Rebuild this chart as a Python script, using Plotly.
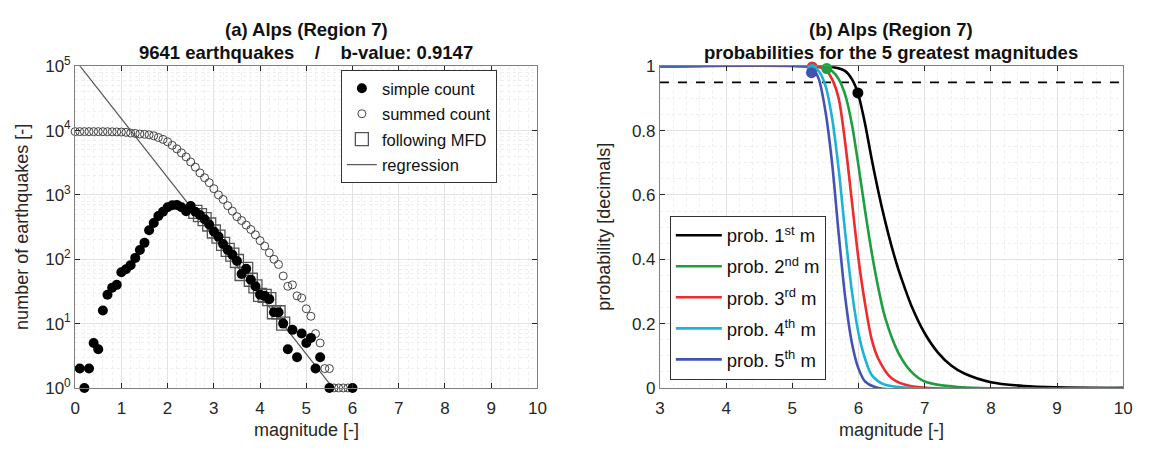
import plotly.graph_objects as go

# ---------------- panel (a): magnitude-frequency data ----------------
mag_bins = [round(0.1 * i, 1) for i in range(61)]

# simple count per 0.1 magnitude bin (None = empty bin)
simple_count = [
    None, 2, 1, 2, 5, 4, 16, 28, 36, 40,
    63, 70, 81, 105, 139, 180, 283, 366, 470, 547,
    645, 690, 700, 645, 560, 673, 547, 487, 420, 347,
    270, 225, 173, 140, 118, 94, 59, 71, 48, 38,
    28, 27, 24, 15, 15, 10, 4, 8, 3, 7,
    5, 6, 2, 3, None, 1, None, None, None, None,
    1,
]

# summed (cumulative) count
summed_count = [
    9641, 9640, 9638, 9636, 9634, 9630, 9625, 9610, 9580, 9540,
    9500, 9400, 9150, 9050, 8850, 8750, 8600, 8300, 7800, 7300,
    6700, 5900, 5200, 4500, 3900, 3250, 2700, 2200, 1850, 1550,
    1250, 1000, 850, 680, 560, 460, 400, 340, 290, 240,
    195, 160, 126, 100, 83, 55, 38, 40, 27, 25,
    17, 13, 7, 5, 2, 2, 1, 1, 1, 1,
    1,
]

# bins that follow the magnitude-frequency distribution
mfd_mag = [2.6, 2.7, 2.8, 2.9, 3.0, 3.1, 3.2, 3.3, 3.4, 3.5, 3.6,
           3.7, 3.8, 3.9, 4.0, 4.1, 4.2, 4.3, 4.4, 4.5]
mfd_count = [547, 487, 420, 347, 270, 225, 173, 140, 118, 94, 59,
             71, 48, 38, 28, 27, 24, 15, 15, 10]

# Gutenberg-Richter regression  log10(N) = a - b*M
a_value = 5.10
b_value = 0.9147
reg_mag = [0.0, 5.6]
reg_count = [10 ** (a_value - b_value * m) for m in reg_mag]

# ---------------- panel (b): exceedance probabilities ----------------
p1_mag = [3, 5.6, 5.8, 5.9, 5.99, 6.1, 6.2, 6.3, 6.4, 6.5, 6.6, 6.7, 6.8, 7.0, 7.2,
          7.4, 7.6, 8.0, 8.5, 9.0, 10]
p1_val = [1, 0.998, 0.985, 0.96, 0.917, 0.82, 0.71, 0.61, 0.52, 0.44, 0.37, 0.31,
          0.255, 0.17, 0.11, 0.07, 0.045, 0.018, 0.006, 0.002, 0]

p2_mag = [3, 5.5, 5.6, 5.7, 5.8, 5.9, 6.0, 6.1, 6.2, 6.3, 6.4, 6.6, 6.8, 7.0, 7.5, 10]
p2_val = [1, 0.995, 0.985, 0.96, 0.91, 0.82, 0.69, 0.55, 0.42, 0.31, 0.22, 0.11, 0.05, 0.02, 0.003, 0]

p3_mag = [3, 5.4, 5.5, 5.6, 5.7, 5.8, 5.9, 6.0, 6.1, 6.2, 6.3, 6.5, 6.8, 10]
p3_val = [1, 0.998, 0.99, 0.96, 0.90, 0.76, 0.58, 0.40, 0.26, 0.15, 0.09, 0.03, 0.005, 0]

p4_mag = [3, 5.3, 5.4, 5.5, 5.6, 5.7, 5.8, 5.9, 6.0, 6.1, 6.2, 6.4, 10]
p4_val = [1, 0.998, 0.985, 0.94, 0.84, 0.68, 0.48, 0.30, 0.17, 0.09, 0.04, 0.01, 0]

p5_mag = [3, 5.2, 5.3, 5.4, 5.5, 5.6, 5.7, 5.8, 5.9, 6.0, 6.1, 6.3, 10]
p5_val = [1, 1, 0.995, 0.96, 0.86, 0.70, 0.48, 0.28, 0.14, 0.06, 0.02, 0, 0]

# observed greatest magnitudes placed on their curves
obs_mag = [5.99, 5.52, 5.30, 5.30, 5.29]
obs_val = [0.917, 0.993, 0.998, 0.99, 0.98]

curve_names = ["prob. 1<sup>st</sup> m", "prob. 2<sup>nd</sup> m", "prob. 3<sup>rd</sup> m",
               "prob. 4<sup>th</sup> m", "prob. 5<sup>th</sup> m"]
curve_colors = ["#000000", "#1f9e3f", "#ef2b2b", "#1bb3d6", "#4353b2"]

threshold = 0.95

FONT = "Arial, Liberation Sans, Helvetica, sans-serif"
AX = "#262626"
GRID = "#e3e3e3"
MINOR = "#efefef"

W, H = 1154, 456
def px_x(p):
    return p / W
def px_y(p):
    return 1 - p / H

fig = go.Figure()

# ----- panel (a) traces -----
fig.add_trace(go.Scatter(
    x=reg_mag, y=reg_count, mode="lines", name="regression", legendrank=4,
    legendgroup="reg",
    line=dict(color="#555555", width=1.2), xaxis="x", yaxis="y", legend="legend"))
fig.add_trace(go.Scatter(
    x=mag_bins, y=summed_count, mode="markers", name="summed count", legendrank=2,
    legendgroup="sum",
    marker=dict(symbol="circle-open", size=8, color="#444444", line=dict(width=1)),
    cliponaxis=False, xaxis="x", yaxis="y", legend="legend"))
fig.add_trace(go.Scatter(
    x=mfd_mag, y=mfd_count, mode="markers", name="following MFD", legendrank=3,
    legendgroup="mfd",
    marker=dict(symbol="square-open", size=13, color="#555555", line=dict(width=1.3)),
    cliponaxis=False, xaxis="x", yaxis="y", legend="legend"))
fig.add_trace(go.Scatter(
    x=mag_bins, y=simple_count, mode="markers", name="simple count", legendrank=1,
    legendgroup="simple",
    marker=dict(symbol="circle", size=10, color="#000000"),
    cliponaxis=False, xaxis="x", yaxis="y", legend="legend"))

# ----- panel (b) traces -----
fig.add_trace(go.Scatter(
    x=[3, 10], y=[threshold, threshold], mode="lines", showlegend=False,
    line=dict(color="#000000", width=1.6, dash="dash"), xaxis="x2", yaxis="y2"))
curves = [(p1_mag, p1_val), (p2_mag, p2_val), (p3_mag, p3_val), (p4_mag, p4_val), (p5_mag, p5_val)]
for k, ((cm, cv), name, col) in enumerate(zip(curves, curve_names, curve_colors)):
    fig.add_trace(go.Scatter(
        x=cm, y=cv, mode="lines", name=name, legendgroup=f"c{k}",
        line=dict(color=col, width=2.6, shape="spline", smoothing=0.8),
        xaxis="x2", yaxis="y2", legend="legend2"))
for m, v, col in zip(obs_mag, obs_val, curve_colors):
    fig.add_trace(go.Scatter(
        x=[m], y=[v], mode="markers", showlegend=False,
        marker=dict(size=11, color=col), cliponaxis=False,
        xaxis="x2", yaxis="y2"))

axis_common = dict(
    showline=True, linecolor="#7f7f7f", linewidth=1, mirror="ticks",
    ticks="inside", ticklen=5, tickcolor=AX,
    tickfont=dict(family=FONT, size=17, color=AX),
    showgrid=True, gridcolor=GRID, gridwidth=1, zeroline=False,
)

fig.update_layout(
    width=W, height=H,
    margin=dict(l=0, r=0, t=0, b=0),
    paper_bgcolor="white", plot_bgcolor="white",
    font=dict(family=FONT, color=AX),
    xaxis=dict(domain=[px_x(71), px_x(539)], range=[0, 10], dtick=1, ticklabelstandoff=5,
               minor=dict(dtick=0.2, showgrid=True, gridcolor=MINOR, griddash="dot"),
               anchor="y", **axis_common),
    yaxis=dict(domain=[px_y(395), px_y(57)], type="log", range=[0, 5],
               tickvals=[1, 10, 100, 1000, 10000, 100000],
               ticktext=["10<sup>0</sup>", "10<sup>1</sup>", "10<sup>2</sup>",
                         "10<sup>3</sup>", "10<sup>4</sup>", "10<sup>5</sup>"],
               minor=dict(dtick="D1", showgrid=True, gridcolor=MINOR, griddash="dot"),
               anchor="x", **axis_common),
    xaxis2=dict(domain=[px_x(663), px_x(1132)], range=[3, 10], dtick=1, ticklabelstandoff=5,
                minor=dict(dtick=0.2, showgrid=True, gridcolor=MINOR, griddash="dot"),
                anchor="y2", **axis_common),
    yaxis2=dict(domain=[px_y(395), px_y(57)], range=[0, 1],
                tickvals=[0, 0.2, 0.4, 0.6, 0.8, 1], ticktext=["0", "0.2", "0.4", "0.6", "0.8", "1"],
                minor=dict(dtick=0.05, showgrid=True, gridcolor=MINOR, griddash="dot"),
                anchor="x2", **axis_common),
    legend=dict(x=px_x(340), y=px_y(61), xanchor="left", yanchor="top",
                bgcolor="white", bordercolor="#333333", borderwidth=1,
                font=dict(family=FONT, size=16.5, color="#111111"),
                tracegroupgap=1, itemwidth=30),
    legend2=dict(x=px_x(673), y=px_y(214), xanchor="left", yanchor="top",
                 bgcolor="white", bordercolor="#333333", borderwidth=1,
                 font=dict(family=FONT, size=18.5, color="#111111"),
                 tracegroupgap=4, itemwidth=46),
    showlegend=True,
)

title_font = dict(family=FONT, size=18.5, color="#111111")
annotations = [
    dict(text="<b>(a) Alps (Region 7)</b>", x=px_x(305), y=px_y(18)),
    dict(text="<b>9641 earthquakes&nbsp;&nbsp;&nbsp; /&nbsp;&nbsp;&nbsp; b-value: 0.9147</b>",
         x=px_x(305), y=px_y(43)),
    dict(text="<b>(b) Alps (Region 7)</b>", x=px_x(897), y=px_y(18)),
    dict(text="<b>probabilities for the 5 greatest magnitudes</b>", x=px_x(897), y=px_y(43)),
]
for a in annotations:
    fig.add_annotation(xref="paper", yref="paper", showarrow=False,
                       xanchor="center", yanchor="middle", font=title_font, **a)

label_font = dict(family=FONT, size=18, color=AX)
fig.add_annotation(text="magnitude [-]", x=px_x(305), y=px_y(439), xref="paper", yref="paper",
                   xanchor="center", yanchor="middle", showarrow=False, font=label_font)
fig.add_annotation(text="magnitude [-]", x=px_x(897), y=px_y(439), xref="paper", yref="paper",
                   xanchor="center", yanchor="middle", showarrow=False, font=label_font)
fig.add_annotation(text="number of earthquakes [-]", x=px_x(17), y=px_y(226), xref="paper",
                   yref="paper", xanchor="center", yanchor="middle", showarrow=False,
                   textangle=-90, font=label_font)
fig.add_annotation(text="probability [decimals]", x=px_x(606), y=px_y(226), xref="paper",
                   yref="paper", xanchor="center", yanchor="middle", showarrow=False,
                   textangle=-90, font=label_font)

fig.write_html("out.html")
